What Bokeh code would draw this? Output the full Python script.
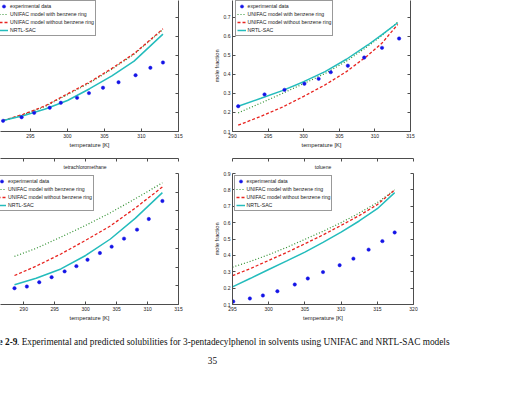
from bokeh.plotting import figure
from bokeh.models import (Range1d, LinearAxis, FixedTicker, Legend, LegendItem,
                          Label, Title, CustomJSTickFormatter)
from bokeh.layouts import column, row
from bokeh.embed import file_html
from bokeh.resources import INLINE

SANS = "Liberation Sans"
SERIF = "Liberation Serif"

BLUE = "#1414e6"
GREEN = "#2f8f2f"
RED = "#e8231f"
CYAN = "#24bcbc"
AXIS = "#4d4d4d"

TICK_FONT = "5px"
LABEL_FONT = "5.8px"
TITLE_FONT = "5px"
LEGEND_FONT = "5.2px"

LEGEND_LABELS = ["experimental data", "UNIFAC model with benzene ring",
                 "UNIFAC model without benzene ring", "NRTL-SAC"]

# ---- upper-left solvent ----
tl_T_exp = [291.3, 293.8, 295.5, 297.6, 299.1, 301.3, 302.9, 304.8, 306.9, 309.2, 311.2, 312.9]
tl_x_exp = [0.156, 0.175, 0.198, 0.225, 0.251, 0.277, 0.302, 0.330, 0.359, 0.396, 0.435, 0.463]
tl_T_mod = [291.3, 294.0, 297.0, 300.0, 303.0, 306.0, 309.0, 312.9]
tl_unifac_ring = [0.157, 0.188, 0.232, 0.294, 0.356, 0.428, 0.506, 0.636]
tl_unifac_noring = [0.158, 0.190, 0.235, 0.298, 0.360, 0.432, 0.510, 0.640]
tl_nrtl = [0.158, 0.183, 0.218, 0.263, 0.325, 0.393, 0.470, 0.612]

# ---- upper-right solvent ----
tr_T_exp = [290.8, 294.5, 297.3, 300.1, 302.1, 303.8, 306.2, 308.5, 311.0, 313.4]
tr_x_exp = [0.233, 0.295, 0.319, 0.351, 0.377, 0.412, 0.446, 0.489, 0.540, 0.589]
tr_T_mod = [290.8, 294.0, 297.0, 300.0, 303.0, 306.0, 309.0, 311.0, 313.2]
tr_unifac_ring = [0.198, 0.250, 0.300, 0.352, 0.405, 0.470, 0.548, 0.605, 0.675]
tr_unifac_noring = [0.133, 0.180, 0.228, 0.285, 0.345, 0.415, 0.500, 0.565, 0.663]
tr_nrtl = [0.233, 0.275, 0.315, 0.362, 0.415, 0.480, 0.555, 0.610, 0.672]

# ---- tetrachloromethane ----
bl_T_exp = [288.5, 290.5, 292.5, 294.5, 296.6, 298.5, 300.3, 302.3, 304.2, 306.2, 308.3, 310.2, 312.4]
bl_x_exp = [0.187, 0.196, 0.219, 0.246, 0.277, 0.305, 0.339, 0.375, 0.409, 0.452, 0.500, 0.557, 0.653]
bl_T_mod = [288.5, 292.0, 296.0, 300.0, 304.0, 308.0, 312.4]
bl_unifac_ring = [0.357, 0.400, 0.460, 0.523, 0.590, 0.665, 0.750]
bl_unifac_noring = [0.255, 0.305, 0.370, 0.443, 0.520, 0.615, 0.728]
bl_nrtl = [0.206, 0.240, 0.290, 0.362, 0.450, 0.560, 0.698]

# ---- toluene ----
br_T_exp = [295.1, 297.4, 299.2, 301.2, 303.6, 305.4, 307.5, 309.8, 311.7, 313.8, 315.7, 317.4]
br_x_exp = [0.118, 0.137, 0.155, 0.181, 0.222, 0.259, 0.298, 0.340, 0.380, 0.435, 0.487, 0.540]
br_T_mod = [295.0, 297.5, 300.0, 302.5, 305.0, 307.5, 310.0, 312.5, 315.0, 317.4]
br_unifac_ring = [0.328, 0.364, 0.404, 0.449, 0.498, 0.547, 0.600, 0.658, 0.722, 0.800]
br_unifac_noring = [0.276, 0.320, 0.369, 0.418, 0.471, 0.525, 0.583, 0.643, 0.710, 0.800]
br_nrtl = [0.208, 0.260, 0.314, 0.366, 0.420, 0.479, 0.542, 0.610, 0.685, 0.783]

X_TICKS_A = [285, 290, 295, 300, 305, 310, 315]
X_TICKS_B = [295, 300, 305, 310, 315, 320]
Y_TICKS = [0.1, 0.2, 0.3, 0.4, 0.5, 0.6, 0.7, 0.8, 0.9]


def style_axis(ax, show_labels=True):
    ax.axis_line_color = AXIS
    ax.axis_line_width = 1
    ax.major_tick_line_color = AXIS
    ax.major_tick_in = 3
    ax.major_tick_out = 0
    ax.minor_tick_line_color = None
    ax.major_label_text_font = SANS
    ax.major_label_text_font_size = TICK_FONT
    ax.major_label_text_color = "#1a1a1a"
    ax.major_label_standoff = 2
    ax.axis_label_text_font = SANS
    ax.axis_label_text_font_size = LABEL_FONT
    ax.axis_label_text_font_style = "normal"
    ax.axis_label_text_color = "#1a1a1a"
    ax.axis_label_standoff = 1
    if not show_labels:
        ax.formatter = CustomJSTickFormatter(code="return ''")
        ax.major_label_standoff = 0


def panel(width, height, xr, yr, xticks, borders, T_exp, x_exp, T_mod,
          ring, noring, nrtl, legend_loc, left_axis=False, top_axis=False,
          title=None, title_align="center", title_offset=0):
    bl, br, bt, bb = borders
    p = figure(width=width, height=height, x_range=Range1d(*xr), y_range=Range1d(*yr),
               output_backend="svg", toolbar_location=None,
               x_axis_location=None, y_axis_location=None,
               min_border_left=bl, min_border_right=br,
               min_border_top=bt, min_border_bottom=bb)
    p.outline_line_color = None
    p.background_fill_color = "white"
    p.border_fill_color = "white"
    for g in p.grid:
        g.visible = False

    if title:
        p.add_layout(Title(text=title, align=title_align, offset=title_offset,
                           text_font=SANS, text_font_size=TITLE_FONT,
                           text_font_style="normal", text_color="#1a1a1a",
                           standoff=7), "above")

    xb = LinearAxis(ticker=FixedTicker(ticks=xticks), axis_label="temperature [K]")
    style_axis(xb)
    p.add_layout(xb, "below")
    yr_ax = LinearAxis(ticker=FixedTicker(ticks=Y_TICKS))
    style_axis(yr_ax, show_labels=False)
    p.add_layout(yr_ax, "right")
    if left_axis:
        yl = LinearAxis(ticker=FixedTicker(ticks=Y_TICKS), axis_label="mole fraction")
        style_axis(yl)
        p.add_layout(yl, "left")
    if top_axis:
        xt = LinearAxis(ticker=FixedTicker(ticks=xticks))
        style_axis(xt, show_labels=False)
        p.add_layout(xt, "above")

    r_ring = p.line(T_mod, ring, line_color=GREEN, line_width=1.2, line_dash="1 2")
    r_noring = p.line(T_mod, noring, line_color=RED, line_width=1.3, line_dash="3 2")
    r_nrtl = p.line(T_mod, nrtl, line_color=CYAN, line_width=1.5)
    r_exp = p.scatter(T_exp, x_exp, marker="circle", size=3.4, fill_color=BLUE,
                      line_color=BLUE, line_width=0.5)

    items = [LegendItem(label=LEGEND_LABELS[0], renderers=[r_exp]),
             LegendItem(label=LEGEND_LABELS[1], renderers=[r_ring]),
             LegendItem(label=LEGEND_LABELS[2], renderers=[r_noring]),
             LegendItem(label=LEGEND_LABELS[3], renderers=[r_nrtl])]
    leg = Legend(items=items, location=legend_loc,
                 label_text_font=SANS, label_text_font_size=LEGEND_FONT,
                 label_text_color="#1a1a1a",
                 label_height=8, glyph_height=8, glyph_width=9,
                 label_standoff=2, spacing=0, padding=1, margin=0,
                 border_line_color="#333333", border_line_width=0.8,
                 background_fill_color="white", background_fill_alpha=1.0)
    p.add_layout(leg)
    return p


tl = panel(205, 157, (290.95, 315), (0.1, 0.789), X_TICKS_A, (0, 27, 0, 26),
           tl_T_exp, tl_x_exp, tl_T_mod, tl_unifac_ring, tl_unifac_noring, tl_nrtl,
           (-3, 95))
tr = panel(313, 157, (290, 315), (0.1, 0.789), X_TICKS_A, (27, 108, 0, 26),
           tr_T_exp, tr_x_exp, tr_T_mod, tr_unifac_ring, tr_unifac_noring, tr_nrtl,
           (2.5, 95), left_axis=True)
bl = panel(205, 168, (286.24, 315), (0.1, 0.8), X_TICKS_A, (0, 27, 16, 21),
           bl_T_exp, bl_x_exp, bl_T_mod, bl_unifac_ring, bl_unifac_noring, bl_nrtl,
           (-5, 93), top_axis=True, title="tetrachloromethane",
           title_align="left", title_offset=63)
br = panel(313, 168, (295, 320), (0.1, 0.9), X_TICKS_B, (27, 105, 16, 21),
           br_T_exp, br_x_exp, br_T_mod, br_unifac_ring, br_unifac_noring, br_nrtl,
           (1.5, 93), left_axis=True, top_axis=True, title="toluene")

# caption strip below the panels
cap = figure(width=518, height=78, x_range=Range1d(0, 518), y_range=Range1d(78, 0),
             output_backend="svg", toolbar_location=None,
             x_axis_location=None, y_axis_location=None, min_border=0)
cap.outline_line_color = None
cap.border_fill_color = "white"
cap.background_fill_color = "white"
for g in cap.grid:
    g.visible = False
cap.add_layout(Label(x=-24, y=16, text="Figure 2-9", text_font=SERIF,
                     text_font_style="bold", text_font_size="9.3px",
                     text_baseline="middle", text_color="#111111"))
cap.add_layout(Label(x=16.5, y=16,
                     text=". Experimental and predicted solubilities for 3-pentadecylphenol "
                          "in solvents using UNIFAC and NRTL-SAC models",
                     text_font=SERIF, text_font_size="9.3px",
                     text_baseline="middle", text_color="#111111"))
cap.add_layout(Label(x=212, y=35, text="35", text_font=SERIF, text_font_size="9.3px",
                     text_align="center", text_baseline="middle", text_color="#111111"))

layout = column(row(tl, tr), row(bl, br), cap)

open("out.html", "w").write(file_html(layout, INLINE))
